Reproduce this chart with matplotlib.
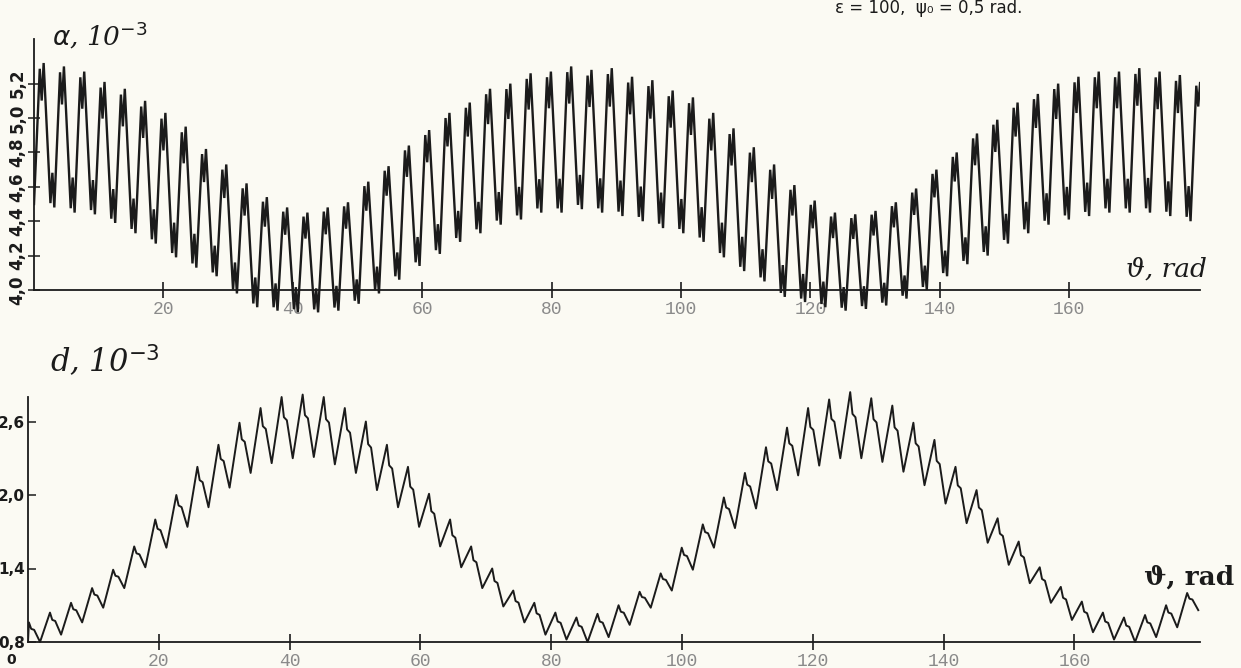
import matplotlib
matplotlib.use("Agg")
import matplotlib.pyplot as plt

# alpha, 10^-3 : crest and trough of every fast cycle
alpha_start = 4.50
alpha_peaks = [
    5.32, 5.30, 5.27, 5.21, 5.17, 5.10, 5.03, 4.95, 4.82, 4.73,
    4.62, 4.54, 4.48, 4.45, 4.48, 4.51, 4.63, 4.72, 4.84, 4.93,
    5.03, 5.09, 5.17, 5.20, 5.26, 5.27, 5.30, 5.28, 5.29, 5.24,
    5.22, 5.16, 5.12, 5.03, 4.94, 4.83, 4.73, 4.61, 4.52, 4.45,
    4.44, 4.46, 4.51, 4.59, 4.70, 4.80, 4.91, 4.99, 5.09, 5.14,
    5.20, 5.24, 5.27, 5.27, 5.29, 5.27, 5.25, 5.21,
]
alpha_troughs = [
    4.48, 4.45, 4.44, 4.39, 4.33, 4.27, 4.19, 4.13, 4.08, 3.98,
    3.90, 3.88, 3.87, 3.87, 3.88, 3.92, 3.98, 4.06, 4.14, 4.21,
    4.28, 4.33, 4.38, 4.41, 4.45, 4.45, 4.47, 4.45, 4.43, 4.40,
    4.36, 4.33, 4.28, 4.19, 4.11, 4.05, 3.96, 3.93, 3.90, 3.88,
    3.89, 3.91, 3.95, 4.00, 4.08, 4.15, 4.20, 4.27, 4.33, 4.38,
    4.41, 4.43, 4.45, 4.45, 4.45, 4.43, 4.40, 4.66,
]

# d, 10^-3 : crest and trough of every ripple
d_start = 0.80
d_peaks = [
    0.96, 1.04, 1.12, 1.24, 1.39, 1.58, 1.80, 2.00, 2.23, 2.41,
    2.59, 2.71, 2.80, 2.82, 2.80, 2.71, 2.60, 2.41, 2.23, 2.01,
    1.80, 1.58, 1.40, 1.22, 1.12, 1.04, 1.00, 1.03, 1.10, 1.21,
    1.36, 1.57, 1.76, 1.98, 2.18, 2.39, 2.55, 2.71, 2.78, 2.84,
    2.79, 2.73, 2.59, 2.45, 2.23, 2.04, 1.81, 1.62, 1.41, 1.25,
    1.13, 1.04, 1.00, 1.02, 1.10, 1.20,
]
d_troughs = [
    0.80, 0.86, 0.96, 1.08, 1.24, 1.41, 1.57, 1.74, 1.90, 2.06,
    2.18, 2.26, 2.30, 2.31, 2.25, 2.18, 2.04, 1.90, 1.74, 1.58,
    1.41, 1.24, 1.09, 0.96, 0.86, 0.82, 0.80, 0.84, 0.94, 1.08,
    1.22, 1.39, 1.57, 1.73, 1.89, 2.04, 2.16, 2.24, 2.30, 2.30,
    2.27, 2.19, 2.08, 1.93, 1.77, 1.61, 1.43, 1.28, 1.12, 0.98,
    0.88, 0.82, 0.80, 0.84, 0.92, 1.06,
]

x_ticks = [20, 40, 60, 80, 100, 120, 140, 160]
x_ticklabels = ["20", "40", "60", "80", "100", "120", "140", "160"]
alpha_yticks = [4.0, 4.2, 4.4, 4.6, 4.8, 5.0, 5.2]
alpha_yticklabels = ["4,0", "4,2", "4,4", "4,6", "4,8", "5,0", "5,2"]
d_yticks = [0.8, 1.4, 2.0, 2.6]
d_yticklabels = ["0,8", "1,4", "2,0", "2,6"]

PAPER = "#fbfaf3"
INK = "#1b1b1b"
FAINT = "#8a8a8a"
W, H = 1241, 668


def px_axes(fig, left, top, right, bottom):
    # axes placed by pixel box (origin top-left)
    return fig.add_axes([left / W, 1 - bottom / H, (right - left) / W, (bottom - top) / H])


def alpha_path(start, peaks, troughs, first, period):
    # M-shaped crest, W-shaped trough in every cycle
    xs, ys = [0.0], [start]
    for i, (hi, lo) in enumerate(zip(peaks, troughs)):
        c = first + i * period
        amp = hi - lo
        xs += [c - 0.35, c - 0.05, c + 0.25]
        ys += [hi - 0.04 * amp, hi - 0.26 * amp, hi]
        xs += [c + 1.3, c + 1.6, c + 1.9]
        ys += [lo + 0.03 * amp, lo + 0.24 * amp, lo]
    return xs, ys


def d_path(start, peaks, troughs, first, period):
    # sharp crest followed by a small shoulder
    xs, ys = [0.0], [start]
    for i, (hi, lo) in enumerate(zip(peaks, troughs)):
        c = first + i * period
        amp = hi - lo
        xs += [c, c + 0.35, c + 0.8, c + 1.7]
        ys += [hi, hi - 0.33 * amp, hi - 0.38 * amp, lo]
    return xs, ys


def style_axes(ax, xmax, ybase):
    ax.set_facecolor("none")
    for side in ("top", "right"):
        ax.spines[side].set_visible(False)
    ax.spines["bottom"].set_position(("data", ybase))
    for side in ("bottom", "left"):
        ax.spines[side].set_color(INK)
        ax.spines[side].set_linewidth(1.3)
    ax.set_xlim(0, xmax)
    ax.set_xticks(x_ticks)
    ax.set_xticklabels(x_ticklabels)
    ax.tick_params(axis="x", direction="inout", length=12, width=1.2,
                   colors=INK, labelcolor=FAINT, labelsize=13, pad=2)
    for lab in ax.get_xticklabels():
        lab.set_family("Liberation Mono")


fig = plt.figure(figsize=(W / 100, H / 100), dpi=100)
fig.patch.set_facecolor(PAPER)

# upper panel: alpha
ax1 = px_axes(fig, 34, 37.2, 1200, 324.4)
style_axes(ax1, (1200 - 34) / 6.47, 4.0)
ax1.set_ylim(3.80, 5.47)
ax1.spines["left"].set_bounds(4.0, 5.46)
xs, ys = alpha_path(alpha_start, alpha_peaks, alpha_troughs, 1.24, 3.136)
ax1.plot(xs, ys, color=INK, lw=1.7, solid_joinstyle="miter")
ax1.set_yticks(alpha_yticks)
ax1.set_yticklabels(alpha_yticklabels, rotation=90, va="center",
                    fontweight="bold", fontsize=12)
ax1.tick_params(axis="y", direction="inout", length=9, width=1.1,
                colors=INK, pad=1)
ax1.text(2.8, 5.42, r"$\alpha$, 10$^{-3}$", fontsize=19, style="italic",
         family="DejaVu Serif", color=INK, ha="left", va="baseline")
ax1.text(175, 4.05, "ϑ, rad", fontsize=19, style="italic",
         family="DejaVu Serif", color=INK, ha="center", va="bottom")

# lower panel: d
ax2 = px_axes(fig, 28, 387.2, 1200, 651.8)
style_axes(ax2, (1200 - 28) / 6.54, 0.8)
ax2.set_ylim(0.72, 2.88)
ax2.spines["left"].set_bounds(0.8, 2.8)
xs, ys = d_path(d_start, d_peaks, d_troughs, 0.14, 3.22)
ax2.plot(xs, ys, color=INK, lw=1.4)
ax2.set_yticks(d_yticks)
ax2.set_yticklabels(d_yticklabels, fontweight="bold", fontsize=11)
ax2.tick_params(axis="y", direction="in", length=6, width=1.1,
                colors=INK, pad=2)
ax2.text(3.4, 3.0, "d, 10$^{-3}$", fontsize=22, style="italic",
         family="DejaVu Serif", color=INK, ha="left", va="baseline")
ax2.text(177.5, 1.27, "ϑ, rad", fontsize=19, fontweight="bold",
         family="DejaVu Serif", color=INK, ha="center", va="baseline")
ax2.text(-2.6, 0.655, "0", fontsize=10, fontweight="bold", color=INK,
         ha="center", va="center")

# caption at the top edge of the scan
fig.text(835 / W, 1 - 13 / H, "ε = 100,  ψ₀ = 0,5 rad.", fontsize=12,
         family="DejaVu Sans", color=INK, ha="left", va="baseline")

fig.savefig("out.png", dpi=100, facecolor=PAPER)
